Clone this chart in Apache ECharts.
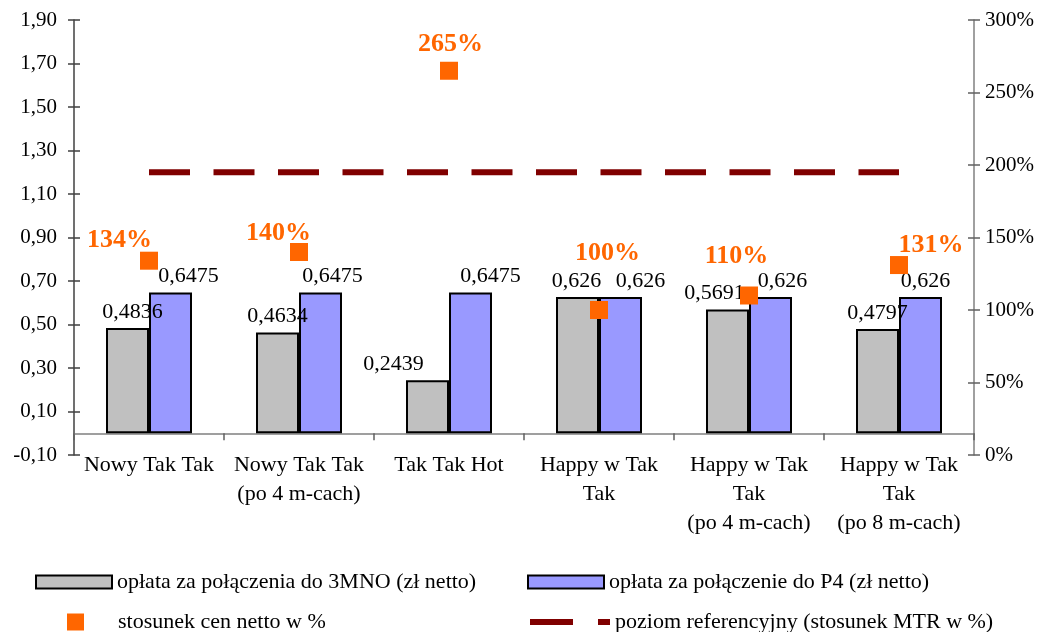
<!DOCTYPE html>
<html>
<head>
<meta charset="utf-8">
<script src="https://cdn.jsdelivr.net/npm/echarts@6/dist/echarts.min.js"></script>
<style>html,body{margin:0;padding:0;background:#fff;}#chart{width:1047px;height:632px;}</style>
</head>
<body>
<div id="chart"></div>
<script>
const categories = ['Nowy Tak Tak', 'Nowy Tak Tak\n(po 4 m-cach)', 'Tak Tak Hot', 'Happy w Tak\nTak', 'Happy w Tak\nTak\n(po 4 m-cach)', 'Happy w Tak\nTak\n(po 8 m-cach)'];
const mnoValues = [0.4836, 0.4634, 0.2439, 0.626, 0.5691, 0.4797];
const p4Values = [0.6475, 0.6475, 0.6475, 0.626, 0.626, 0.626];
const ratioPct = [134, 140, 265, 100, 110, 131];
const refPct = [195, 195, 195, 195, 195, 195];
const seriesNames = ['opłata za połączenia do 3MNO (zł netto)', 'opłata za połączenie do P4 (zł netto)', 'stosunek cen netto w %', 'poziom referencyjny (stosunek MTR w %)'];

// label placement (style only)
const mnoLabelShift = [5, 0, -34, -1, -13, 0];
const p4LabelShift = [18, 12, 20, 20, 12, 5];
const ratioLabelShift = [[-29.5, -20], [-20.5, -19], [1.5, -26], [8.5, -57], [-12.5, -39.5], [32, -20]];

const FONT = 'Liberation Serif';
const fmtComma = v => String(v).replace('.', ',');

const chart = echarts.init(document.getElementById('chart'), null, {renderer: 'canvas'});
const leftAxisBase = {min: -0.1, max: 1.9, interval: 0.2};
const rightAxisBase = {min: 0, max: 300, interval: 50};
const legendText = {fontFamily: FONT, fontSize: 22, color: '#000'};

chart.setOption({
  animation: false,
  backgroundColor: '#fff',
  textStyle: {fontFamily: FONT, color: '#000'},
  grid: {left: 74, right: 73, top: 20, bottom: 177, containLabel: false},
  legend: [
    {data: [seriesNames[0]], left: 35, top: 571, padding: 0, icon: 'rect', itemWidth: 76, itemHeight: 13, textStyle: legendText},
    {data: [seriesNames[1]], left: 527, top: 571, padding: 0, icon: 'rect', itemWidth: 76, itemHeight: 13, textStyle: legendText},
    {data: [seriesNames[2]], left: 67, top: 611, padding: 0, icon: 'rect', itemWidth: 17, itemHeight: 17, itemStyle: {opacity: 1}, textStyle: Object.assign({padding: [0, 0, 0, 29]}, legendText)},
    {data: [seriesNames[3]], left: 527, top: 611, padding: 0, itemWidth: 80, itemHeight: 14,
     itemStyle: {opacity: 0, color: 'rgba(0,0,0,0)', borderWidth: 0},
     lineStyle: {color: '#800000', width: 6, type: [43, 25], cap: 'butt', opacity: 1},
     textStyle: legendText}
  ],
  xAxis: {
    type: 'category',
    data: categories,
    axisLine: {onZero: true, lineStyle: {color: '#808080', width: 1.5}},
    axisTick: {show: true, length: 7, lineStyle: {color: '#606060', width: 1.5}},
    axisLabel: {fontFamily: FONT, fontSize: 22, color: '#000', margin: -4, lineHeight: 29, interval: 0},
    splitLine: {show: false}
  },
  yAxis: [
    Object.assign({
      type: 'value', position: 'left',
      axisLine: {show: true, lineStyle: {color: '#404040', width: 1.5}},
      axisTick: {show: true, length: 6, lineStyle: {color: '#404040', width: 1.5}},
      axisLabel: {fontFamily: FONT, fontSize: 21, color: '#000', margin: 17, formatter: v => v.toFixed(2).replace('.', ',')},
      splitLine: {show: false}
    }, leftAxisBase),
    Object.assign({
      type: 'value', position: 'right',
      axisLine: {show: true, lineStyle: {color: '#808080', width: 1.5}},
      axisTick: {show: true, length: 6, lineStyle: {color: '#606060', width: 1.5}},
      axisLabel: {fontFamily: FONT, fontSize: 21, color: '#000', margin: 11, formatter: '{value}%'},
      splitLine: {show: false}
    }, rightAxisBase),
    Object.assign({
      type: 'value', position: 'left',
      axisLine: {show: false},
      axisTick: {show: true, inside: true, length: 6, lineStyle: {color: '#404040', width: 1.5}},
      axisLabel: {show: false},
      splitLine: {show: false}
    }, leftAxisBase),
    Object.assign({
      type: 'value', position: 'right',
      axisLine: {show: false},
      axisTick: {show: true, inside: true, length: 6, lineStyle: {color: '#606060', width: 1.5}},
      axisLabel: {show: false},
      splitLine: {show: false}
    }, rightAxisBase)
  ],
  series: [
    {
      name: seriesNames[0], type: 'bar', yAxisIndex: 0,
      barWidth: 43, barGap: '0%',
      itemStyle: {color: '#C0C0C0', borderColor: '#000', borderWidth: 2},
      label: {show: true, position: 'top', distance: 5, fontFamily: FONT, fontSize: 22, color: '#000', formatter: p => fmtComma(p.value)},
      data: mnoValues.map((v, i) => ({value: v, label: {offset: [mnoLabelShift[i], 0]}}))
    },
    {
      name: seriesNames[1], type: 'bar', yAxisIndex: 0,
      barWidth: 43, barGap: '0%',
      itemStyle: {color: '#9999FF', borderColor: '#000', borderWidth: 2},
      label: {show: true, position: 'top', distance: 5, fontFamily: FONT, fontSize: 22, color: '#000', formatter: p => fmtComma(p.value)},
      data: p4Values.map((v, i) => ({value: v, label: {offset: [p4LabelShift[i], 0]}}))
    },
    {
      name: seriesNames[3], type: 'line', yAxisIndex: 1,
      symbol: 'none',
      lineStyle: {color: '#800000', width: 6, type: [41, 23.5], cap: 'butt'},
      itemStyle: {color: '#800000'},
      z: 3,
      data: refPct
    },
    {
      name: seriesNames[2], type: 'scatter', yAxisIndex: 1,
      symbol: 'rect', symbolSize: 18,
      itemStyle: {color: '#FF6600', opacity: 1},
      z: 5,
      label: {show: true, position: 'inside', fontFamily: FONT, fontSize: 26, fontWeight: 'bold', color: '#FF6600', opacity: 1, formatter: '{c}%'},
      data: ratioPct.map((v, i) => ({value: v, label: {offset: ratioLabelShift[i]}}))
    }
  ]
});
</script>
</body>
</html>
